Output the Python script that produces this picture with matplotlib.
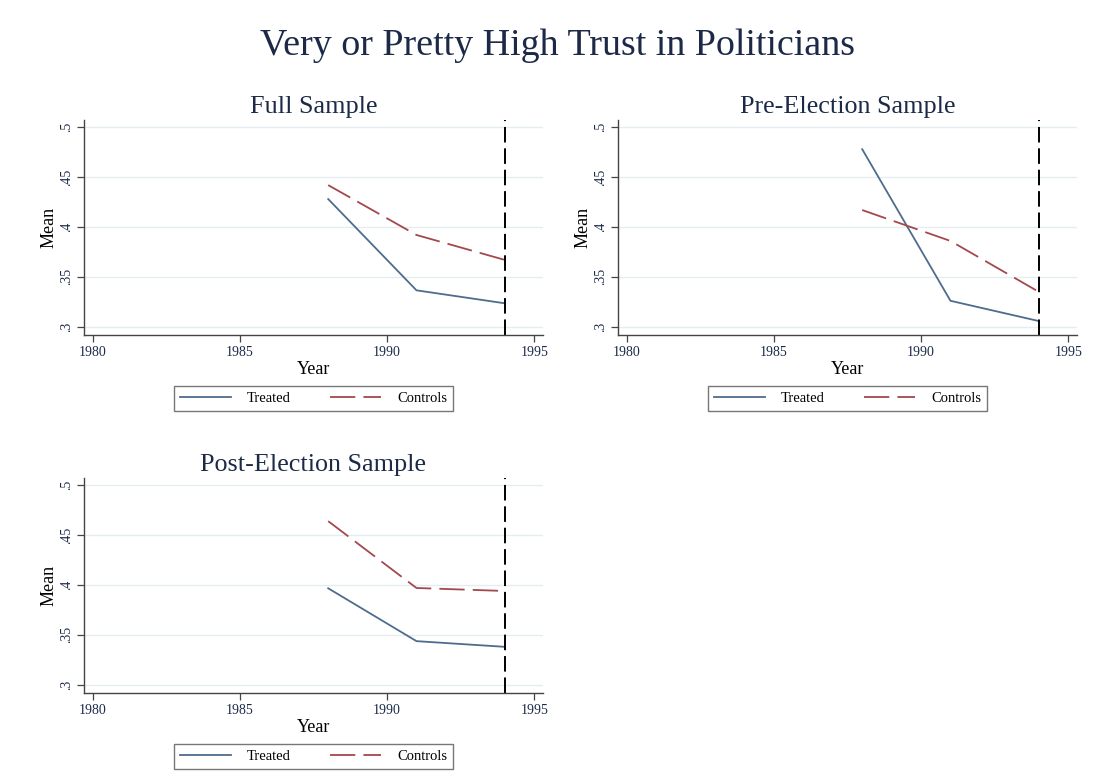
import matplotlib
matplotlib.use("Agg")
import matplotlib.pyplot as plt
from matplotlib.lines import Line2D

plt.rcParams['font.family'] = ['Liberation Serif', 'DejaVu Serif']

# Survey waves and group means
years = [1988, 1991, 1994]
panel_titles = ["Full Sample", "Pre-Election Sample", "Post-Election Sample"]
treated = [
    [0.428, 0.3365, 0.3235],
    [0.478, 0.326, 0.3057],
    [0.3967, 0.3437, 0.338],
]
controls = [
    [0.442, 0.392, 0.367],
    [0.417, 0.386, 0.335],
    [0.464, 0.397, 0.394],
]
cutoff_year = 1994
x_ticks = [1980, 1985, 1990, 1995]
y_ticks = [0.3, 0.35, 0.4, 0.45, 0.5]
y_tick_labels = [".3", ".35", ".4", ".45", ".5"]
suptitle = "Very or Pretty High Trust in Politicians"

TREATED_C = "#4e6c8c"
CONTROL_C = "#a3484e"
NAVY = "#1c2a48"
GRID_C = "#e4eef0"
SPINE_C = "#444444"

W, H = 1096, 783
fig = plt.figure(figsize=(W / 100, H / 100), dpi=100)
fig.patch.set_facecolor("white")

# axes boxes in pixels: left, top, right, bottom
boxes = [
    (84, 120, 543, 335),
    (618, 120, 1077, 335),
    (84, 478, 543, 693),
]


def px_axes(l, t, r, b):
    return fig.add_axes([l / W, 1 - b / H, (r - l) / W, (b - t) / H])


for i, (l, t, r, b) in enumerate(boxes):
    ax = px_axes(l, t, r, b)
    ax.set_xlim(1979.7, 1995.3)
    ax.set_ylim(0.2917, 0.5073)
    ax.set_yticks(y_ticks)
    ax.set_yticklabels(y_tick_labels, rotation=90, va="center")
    ax.set_xticks(x_ticks)
    ax.grid(axis="y", color=GRID_C, linewidth=1.0)
    ax.set_axisbelow(True)
    for s in ("top", "right"):
        ax.spines[s].set_visible(False)
    for s in ("left", "bottom"):
        ax.spines[s].set_color(SPINE_C)
        ax.spines[s].set_linewidth(1.0)
    ax.tick_params(axis="both", direction="out", length=5, width=0.9,
                   color=SPINE_C, labelsize=10, labelcolor=NAVY, pad=3)

    ax.plot(years, treated[i], color=TREATED_C, linewidth=1.3,
            solid_joinstyle="round")
    ax.plot(years, controls[i], color=CONTROL_C, linewidth=1.3,
            dashes=(14, 4.5))
    ax.axvline(cutoff_year, color="black", linewidth=1.4, dashes=(8, 3))

    ax.set_title(panel_titles[i], fontsize=18.8, color=NAVY, pad=5)
    ax.set_xlabel("Year", fontsize=13, color="black", labelpad=1)
    ax.set_ylabel("Mean", fontsize=13, color="black", labelpad=2)

    handles = [
        Line2D([], [], color=TREATED_C, linewidth=1.3),
        Line2D([], [], color=CONTROL_C, linewidth=1.3, dashes=(14, 4.5)),
    ]
    cx = (l + r) / 2 / W
    leg = fig.legend(handles, ["Treated", "Controls"], ncol=2,
                     loc="upper center", bbox_to_anchor=(cx, 1 - (b + 51) / H),
                     frameon=True, fancybox=False, fontsize=10.5,
                     handlelength=3.5, columnspacing=2.7, handletextpad=1.1,
                     borderpad=0.4, borderaxespad=0)
    leg.get_frame().set_edgecolor("#555555")
    leg.get_frame().set_linewidth(1.0)

fig.text(557 / W, 1 - 46 / H, suptitle, ha="center", va="center",
         fontsize=27.4, color=NAVY)

fig.savefig("out.png", dpi=100, facecolor="white")
